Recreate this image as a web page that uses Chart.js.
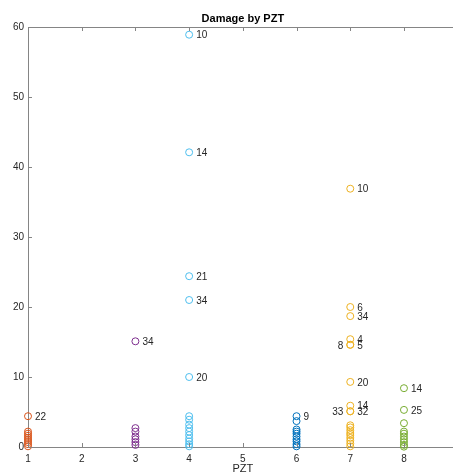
<!DOCTYPE html>
<html>
<head>
<meta charset="utf-8">
<script src="https://cdn.jsdelivr.net/npm/chart.js@4.4.1/dist/chart.umd.min.js"></script>
<style>
  html, body { margin: 0; padding: 0; background: #fff; }
  #wrap { width: 453px; height: 472px; }
</style>
</head>
<body>
<div id="wrap"><canvas id="damageChart"></canvas></div>
<script>
// PZT番号ごとの損傷値
const pztIds = [1, 3, 4, 6, 7, 8];
const pzt1Values = [4.4, 2.2, 1.9, 1.6, 1.3, 1.0, 0.7, 0.4, 0.1];
const pzt1Labels = ['22', '', '', '', '', '', '', '', ''];
const pzt3Values = [15.1, 2.7, 2.2, 1.5, 1.1, 0.7, 0.3];
const pzt3Labels = ['34', '', '', '', '', '', ''];
const pzt4Values = [58.9, 42.1, 24.4, 21.0, 10.0, 4.4, 3.9, 3.2, 2.7, 2.2, 1.7, 1.2, 0.8, 0.4, 0.1];
const pzt4Labels = ['10', '14', '21', '34', '20', '', '', '', '', '', '', '', '', '', ''];
const pzt6Values = [4.4, 3.7, 2.5, 2.2, 1.9, 1.5, 1.1, 0.8, 0.4, 0.1];
const pzt6Labels = ['9', '', '', '', '', '', '', '', '', ''];
const pzt7Values = [36.9, 20.0, 18.7, 15.4, 14.6, 14.6, 9.3, 5.9, 5.1, 5.1, 3.1, 2.8, 2.4, 2.0, 1.7, 1.3, 0.9, 0.5, 0.1];
const pzt7Labels = ['10', '6', '34', '4', '5', '8', '20', '14', '32', '33', '', '', '', '', '', '', '', '', ''];
const pzt7LabelSide = ['r', 'r', 'r', 'r', 'r', 'l', 'r', 'r', 'r', 'l', 'r', 'r', 'r', 'r', 'r', 'r', 'r', 'r', 'r'];
const pzt8Values = [8.4, 5.3, 3.4, 2.2, 1.9, 1.5, 1.1, 0.7, 0.3, 0.05];
const pzt8Labels = ['14', '25', '', '', '', '', '', '', '', ''];

const xTicks = [1, 2, 3, 4, 5, 6, 7, 8];
const yTicks = [0, 10, 20, 30, 40, 50, 60];

const axisColor = '#858585';
const textColor = '#262626';

function makeSeries(pzt, values, labels, color, sides) {
    return {
        label: 'PZT ' + pzt,
        data: values.map(v => ({ x: pzt, y: v })),
        pointLabels: labels,
        labelSides: sides || labels.map(() => 'r'),
        borderColor: color,
        backgroundColor: 'rgba(0,0,0,0)',
        pointRadius: 3.5,
        pointHoverRadius: 3.5,
        pointBorderWidth: 1,
        showLine: false,
        clip: false
    };
}

// 目盛り（内向き）、上枠、点ラベル、タイトル
const matlabAxes = {
    id: 'matlabAxes',
    afterDraw(chart) {
        const { ctx, chartArea: a, scales: { x, y } } = chart;
        ctx.save();
        ctx.strokeStyle = axisColor;
        ctx.lineWidth = 1;
        ctx.beginPath();
        ctx.moveTo(a.left, a.top + 0.5);
        ctx.lineTo(a.right, a.top + 0.5);
        x.ticks.forEach(t => {
            const px = Math.round(x.getPixelForValue(t.value)) + 0.5;
            ctx.moveTo(px, a.bottom);
            ctx.lineTo(px, a.bottom - 4);
            ctx.moveTo(px, a.top);
            ctx.lineTo(px, a.top + 4);
        });
        y.ticks.forEach(t => {
            const py = Math.round(y.getPixelForValue(t.value)) + 0.5;
            ctx.moveTo(a.left, py);
            ctx.lineTo(a.left + 4, py);
        });
        ctx.stroke();

        // 点ラベル
        ctx.fillStyle = textColor;
        ctx.font = '10px "Liberation Sans", Arial, sans-serif';
        ctx.textBaseline = 'middle';
        chart.data.datasets.forEach((ds, i) => {
            const meta = chart.getDatasetMeta(i);
            meta.data.forEach((pt, j) => {
                const txt = ds.pointLabels[j];
                if (!txt) return;
                if (ds.labelSides[j] === 'l') {
                    ctx.textAlign = 'right';
                    ctx.fillText(txt, pt.x - 7, pt.y + 1);
                } else {
                    ctx.textAlign = 'left';
                    ctx.fillText(txt, pt.x + 7, pt.y + 1);
                }
            });
        });

        // タイトルと軸ラベル
        const cx = x.getPixelForValue(5);
        ctx.textAlign = 'center';
        ctx.font = 'bold 11px "Liberation Sans", Arial, sans-serif';
        ctx.fillStyle = '#000';
        ctx.fillText('Damage by PZT', cx, 19);
        ctx.font = '11px "Liberation Sans", Arial, sans-serif';
        ctx.fillStyle = textColor;
        ctx.textBaseline = 'top';
        ctx.fillText('PZT', cx, 463);
        ctx.restore();
    }
};

const ctx = document.getElementById('damageChart');
new Chart(ctx, {
    type: 'scatter',
    data: {
        datasets: [
            makeSeries(1, pzt1Values, pzt1Labels, '#D95319'),
            makeSeries(3, pzt3Values, pzt3Labels, '#7E2F8E'),
            makeSeries(4, pzt4Values, pzt4Labels, '#4DBEEE'),
            makeSeries(6, pzt6Values, pzt6Labels, '#0072BD'),
            makeSeries(7, pzt7Values, pzt7Labels, '#EDB120', pzt7LabelSide),
            makeSeries(8, pzt8Values, pzt8Labels, '#77AC30')
        ]
    },
    options: {
        responsive: true,
        maintainAspectRatio: false,
        animation: false,
        layout: { autoPadding: false, padding: { top: 27, right: 0, left: 0, bottom: 0 } },
        plugins: {
            legend: { display: false },
            tooltip: { enabled: false }
        },
        scales: {
            x: {
                type: 'linear',
                min: 1,
                max: 8.913,
                afterBuildTicks: s => { s.ticks = xTicks.map(v => ({ value: v })); },
                afterFit: s => { s.height = 25; s.paddingRight = 0; },
                grid: { drawOnChartArea: false, drawTicks: false },
                border: { display: true, color: axisColor },
                ticks: {
                    padding: 6,
                    color: textColor,
                    font: { size: 10, family: '"Liberation Sans", Arial, sans-serif' }
                }
            },
            y: {
                type: 'linear',
                min: 0,
                max: 60,
                afterBuildTicks: s => { s.ticks = yTicks.map(v => ({ value: v })); },
                afterFit: s => { s.width = 28; },
                grid: { drawOnChartArea: false, drawTicks: false },
                border: { display: true, color: axisColor },
                ticks: {
                    padding: 4,
                    color: textColor,
                    font: { size: 10, family: '"Liberation Sans", Arial, sans-serif' }
                }
            }
        }
    },
    plugins: [matlabAxes]
});
</script>
</body>
</html>
